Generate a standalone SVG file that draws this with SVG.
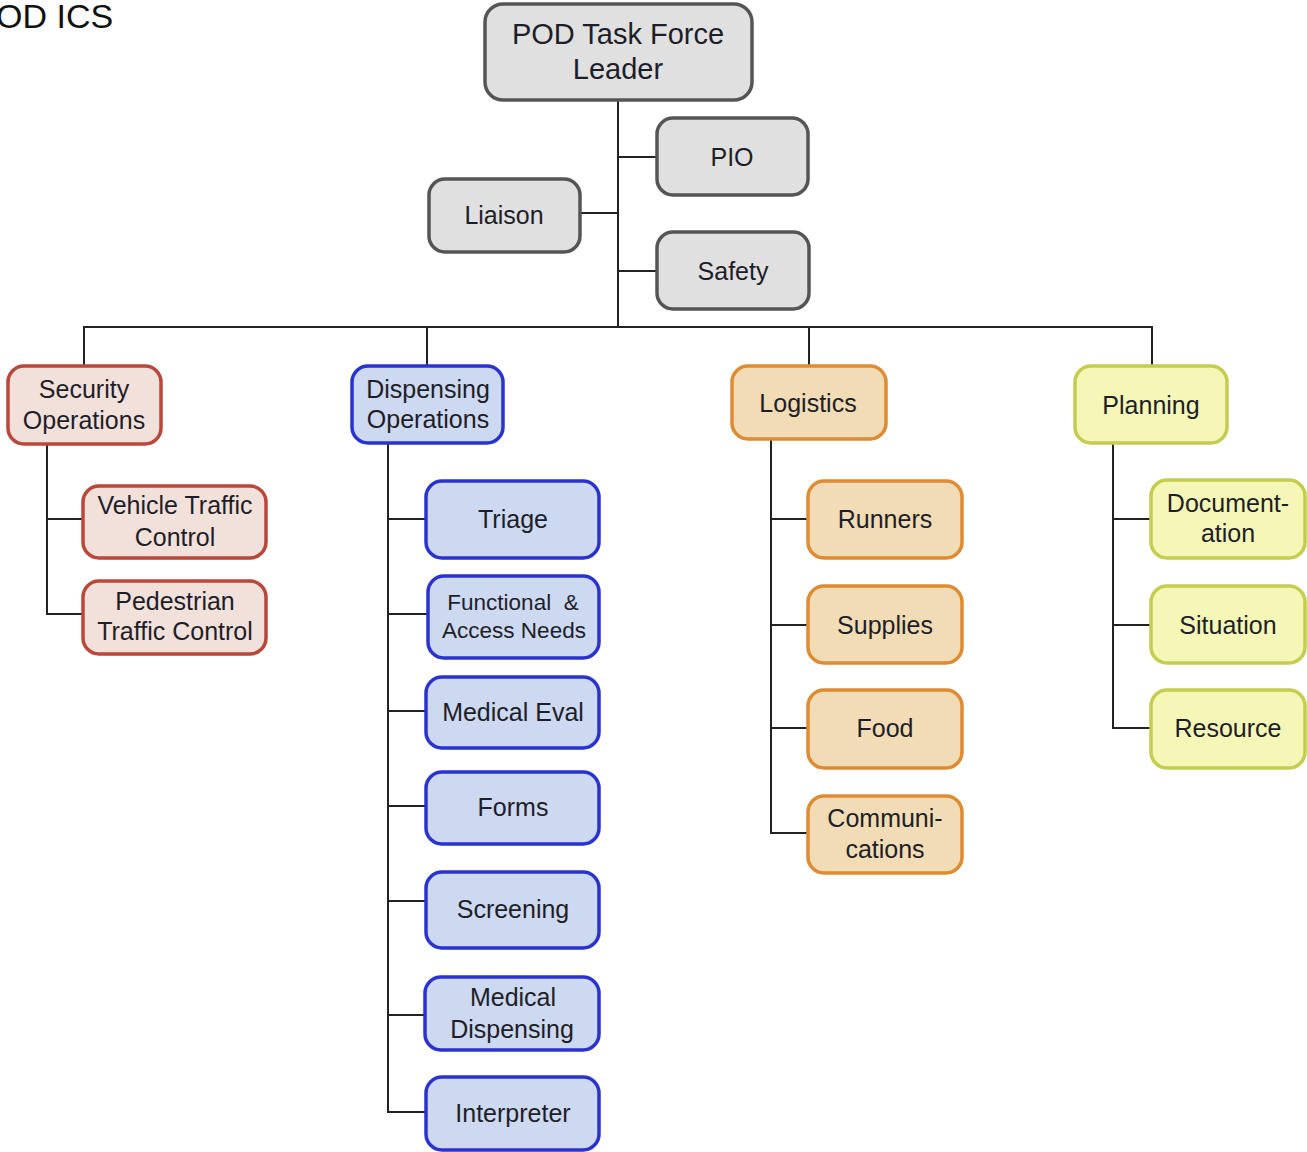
<svg xmlns="http://www.w3.org/2000/svg" width="1307" height="1152" viewBox="0 0 1307 1152">
<style>
text{font-family:"Liberation Sans",Arial,sans-serif;font-size:25px;fill:#1e1e28;text-anchor:middle;dominant-baseline:central}
rect{stroke-width:3.5}
.g rect{fill:#e0e0e0;stroke:#555}
.r rect{fill:#f2e1da;stroke:#b9473a}
.b rect{fill:#cdd8f1;stroke:#2a33cf}
.o rect{fill:#f1dcb5;stroke:#df8b33}
.y rect{fill:#f4f7b6;stroke:#c4cd4f}
#connectors path{fill:none;stroke:#222;stroke-width:2}
</style>
<rect width="1307" height="1152" fill="#fff" style="stroke:none"/>
<text x="-4" y="28" style="text-anchor:start;dominant-baseline:auto;font-size:34px;fill:#111">OD ICS</text>
<g id="connectors">
<path d="M618 100V327M618 157H657M580 213H618M618 271H657"/>
<path d="M84 366V327H1152V366M427 327V366M809 327V366"/>
<path d="M47 444V614H83M47 519H83"/>
<path d="M388 443V1112H426M388 519H426M388 614H428M388 711H426M388 806H426M388 901H426M388 1015H425"/>
<path d="M771 439V833H808M771 519H808M771 625H808M771 728H808"/>
<path d="M1113 443V728H1151M1113 519H1151M1113 625H1151"/>
</g>
<g id="leader" class="g"><rect x="485" y="4" width="267" height="96" rx="18"/><text x="618" y="34" style="font-size:29px">POD Task Force</text><text x="618" y="69" style="font-size:29px">Leader</text></g>
<g id="pio" class="g"><rect x="657" y="118" width="151" height="77" rx="16"/><text x="732" y="157">PIO</text></g>
<g id="liaison" class="g"><rect x="429" y="179" width="151" height="73" rx="16"/><text x="504" y="215">Liaison</text></g>
<g id="safety" class="g"><rect x="657" y="232" width="152" height="77" rx="16"/><text x="733" y="271">Safety</text></g>

<g id="security" class="r"><rect x="8" y="366" width="153" height="78" rx="16"/><text x="84" y="389">Security</text><text x="84" y="420">Operations</text></g>
<g id="vehicle" class="r"><rect x="83" y="486" width="183" height="72" rx="16"/><text x="175" y="505">Vehicle Traffic</text><text x="175" y="537">Control</text></g>
<g id="pedestrian" class="r"><rect x="83" y="581" width="183" height="73" rx="16"/><text x="175" y="601">Pedestrian</text><text x="175" y="631">Traffic Control</text></g>

<g id="dispensing" class="b"><rect x="352" y="366" width="151" height="77" rx="16"/><text x="428" y="389">Dispensing</text><text x="428" y="419">Operations</text></g>
<g id="triage" class="b"><rect x="426" y="481" width="173" height="77" rx="16"/><text x="513" y="519">Triage</text></g>
<g id="functional" class="b"><rect x="428" y="576" width="171" height="82" rx="16"/><text x="513" y="602" style="font-size:22.5px">Functional&#160; &amp;</text><text x="514" y="630" style="font-size:22.5px">Access Needs</text></g>
<g id="medeval" class="b"><rect x="426" y="677" width="173" height="71" rx="16"/><text x="513" y="712">Medical Eval</text></g>
<g id="forms" class="b"><rect x="426" y="772" width="173" height="72" rx="16"/><text x="513" y="807">Forms</text></g>
<g id="screening" class="b"><rect x="426" y="872" width="173" height="76" rx="16"/><text x="513" y="909">Screening</text></g>
<g id="meddisp" class="b"><rect x="425" y="977" width="174" height="73" rx="16"/><text x="513" y="997">Medical</text><text x="512" y="1029">Dispensing</text></g>
<g id="interpreter" class="b"><rect x="426" y="1077" width="173" height="73" rx="16"/><text x="513" y="1113">Interpreter</text></g>

<g id="logistics" class="o"><rect x="732" y="366" width="154" height="73" rx="16"/><text x="808" y="403">Logistics</text></g>
<g id="runners" class="o"><rect x="808" y="481" width="154" height="77" rx="16"/><text x="885" y="519">Runners</text></g>
<g id="supplies" class="o"><rect x="808" y="586" width="154" height="77" rx="16"/><text x="885" y="625">Supplies</text></g>
<g id="food" class="o"><rect x="808" y="690" width="154" height="78" rx="16"/><text x="885" y="728">Food</text></g>
<g id="comms" class="o"><rect x="808" y="796" width="154" height="77" rx="16"/><text x="885" y="818">Communi-</text><text x="885" y="849">cations</text></g>

<g id="planning" class="y"><rect x="1075" y="366" width="152" height="77" rx="16"/><text x="1151" y="405">Planning</text></g>
<g id="documentation" class="y"><rect x="1151" y="480" width="154" height="78" rx="16"/><text x="1228" y="503">Document-</text><text x="1228" y="533">ation</text></g>
<g id="situation" class="y"><rect x="1151" y="586" width="154" height="77" rx="16"/><text x="1228" y="625">Situation</text></g>
<g id="resource" class="y"><rect x="1151" y="690" width="154" height="78" rx="16"/><text x="1228" y="728">Resource</text></g>
</svg>
